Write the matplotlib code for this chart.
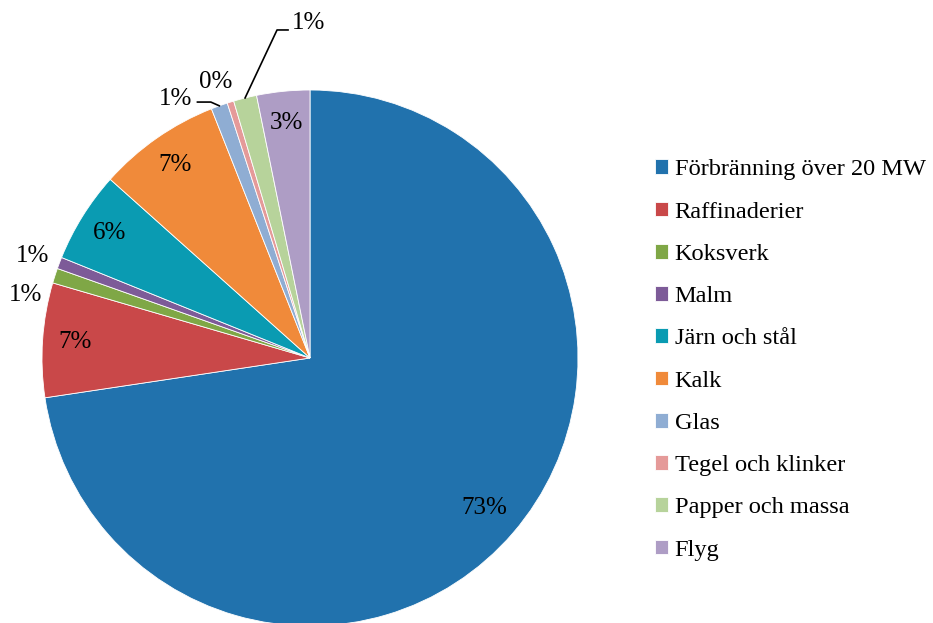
import numpy as np
import matplotlib
matplotlib.use("Agg")
import matplotlib.pyplot as plt

plt.rcParams['font.family'] = ['Liberation Serif', 'DejaVu Serif']

# andelar av utsläppen per sektor (%)
sectors = ["Förbränning över 20 MW", "Raffinaderier", "Koksverk", "Malm",
           "Järn och stål", "Kalk", "Glas", "Tegel och klinker",
           "Papper och massa", "Flyg"]
shares = [72.7, 6.9, 0.9, 0.7, 5.5, 7.4, 1.0, 0.4, 1.4, 3.2]
colors = ["#2172AD", "#C94849", "#7FA746", "#7D5B98", "#0A9BB2",
          "#F08A3A", "#8FADD3", "#E59A99", "#B7D39B", "#AE9DC5"]

W, H = 933, 623
fig = plt.figure(figsize=(W / 100, H / 100), dpi=100)
cx, cy, r = 310, 358, 268
ax = fig.add_axes([(cx - r) / W, (H - cy - r) / H, 2 * r / W, 2 * r / H])

wedges, _ = ax.pie(shares, colors=colors, startangle=90, counterclock=False,
                   radius=1, wedgeprops=dict(edgecolor="white", linewidth=0.6))
ax.set_xlim(-1, 1)
ax.set_ylim(-1, 1)
ax.set_aspect("equal")
ax.axis("off")

fs = 18
# inside labels at 0.88 of the radius, small slices outside
outside = {2: (-1.063, 0.235), 3: (-1.037, 0.381), 6: (-0.50, 0.966),
           7: (-0.351, 1.03), 8: (-0.007, 1.25)}
for i, (w, v) in enumerate(zip(wedges, shares)):
    mid = np.deg2rad((w.theta1 + w.theta2) / 2)
    txt = f"{v:.0f}%"
    if i in outside:
        tx, ty = outside[i]
    else:
        rr = 0.88 if i else 0.86
        tx, ty = rr * np.cos(mid), rr * np.sin(mid)
    ax.text(tx, ty, txt, ha="center", va="center", fontsize=fs, clip_on=False)

# leader lines for Glas and Papper och massa
m6 = np.deg2rad((wedges[6].theta1 + wedges[6].theta2) / 2)
ex, ey = np.cos(m6), np.sin(m6)
ax.plot([-0.42, -0.37, ex], [0.955, 0.955, ey], color="black", lw=1.2, clip_on=False)
m8 = np.deg2rad((wedges[8].theta1 + wedges[8].theta2) / 2)
ex, ey = np.cos(m8), np.sin(m8)
ax.plot([ex, -0.123, -0.082], [ey, 1.224, 1.224], color="black", lw=1.2, clip_on=False)

fig.legend(wedges, sectors, loc="center left", bbox_to_anchor=(655 / W, 1 - 360 / H),
           frameon=False, fontsize=17.6, handlelength=0.55, handleheight=0.55,
           handletextpad=0.25, labelspacing=0.87, borderpad=0, borderaxespad=0)

fig.savefig("out.png", dpi=100)
